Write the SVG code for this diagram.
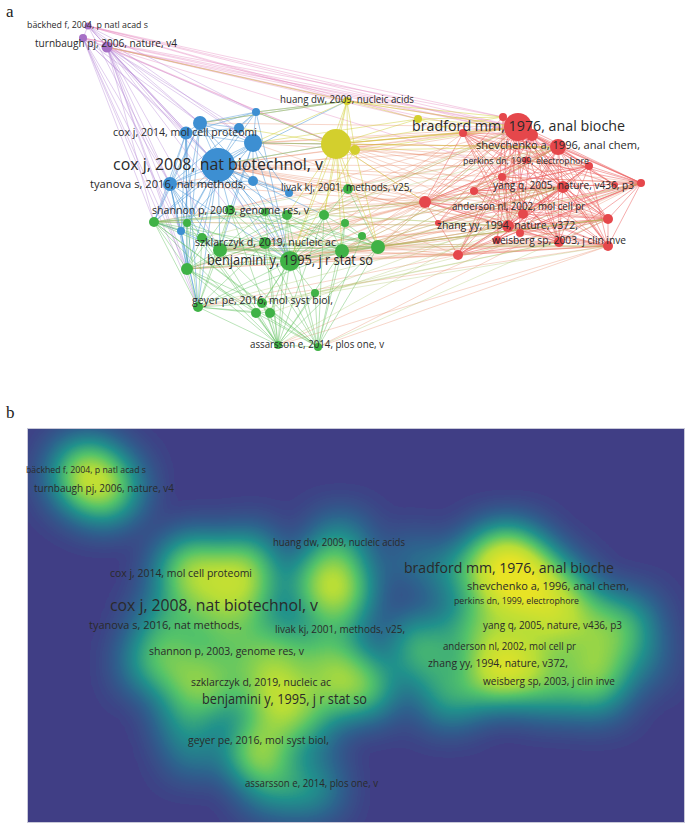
<svg xmlns="http://www.w3.org/2000/svg" width="685" height="826" viewBox="0 0 685 826">
<style>
.lbl{font-family:"Open Sans","Liberation Sans",sans-serif;fill:#2a2a2a}
.pl{font-family:"Liberation Serif",serif;fill:#222;font-size:17px}
path.e{fill:none;stroke-width:1;stroke-linecap:round}
.er{stroke:#ec5c5c;stroke-opacity:.5;stroke-width:1.2}
.erx{stroke:#e5805a;stroke-opacity:.32}
.eb{stroke:#4a95d6;stroke-opacity:.5}
.ebw{stroke:#4a95d6;stroke-opacity:.45;stroke-width:2.2}
.ep{stroke:#b585d4;stroke-opacity:.4}
.epr{stroke:#e58ac0;stroke-opacity:.4}
.ey{stroke:#cfcc2c;stroke-opacity:.45}
.eg{stroke:#5cbf5a;stroke-opacity:.42}
.egr{stroke:#a8c060;stroke-opacity:.32}
.nr{fill:#e5474b}
.nb{fill:#3d8fd2}
.ng{fill:#3fb246}
.ny{fill:#d3cf2d}
.np{fill:#a770c6}
.d{fill:#fff}
</style>
<defs>
<filter id="dens" filterUnits="userSpaceOnUse" x="27" y="428" width="658" height="395" color-interpolation-filters="sRGB">
<feGaussianBlur in="SourceGraphic" stdDeviation="20" result="b"/>
<feFlood flood-color="#000" result="k"/>
<feMerge><feMergeNode in="k"/><feMergeNode in="b"/></feMerge>
<feComponentTransfer>
<feFuncR type="gamma" amplitude="1.45" exponent="0.72" offset="0"/>
<feFuncG type="gamma" amplitude="1.45" exponent="0.72" offset="0"/>
<feFuncB type="gamma" amplitude="1.45" exponent="0.72" offset="0"/>
</feComponentTransfer>
<feComponentTransfer>
<feFuncR type="table" tableValues="0.251 0.176 0.129 0.333 0.725 0.91"/>
<feFuncG type="table" tableValues="0.247 0.392 0.569 0.765 0.871 0.894"/>
<feFuncB type="table" tableValues="0.522 0.557 0.549 0.412 0.216 0.149"/>
</feComponentTransfer>
</filter>
</defs>
<rect width="685" height="826" fill="#fff"/>
<text class="pl" x="6" y="17">a</text>
<text class="pl" x="6" y="418">b</text>

<g id="connectors">
<path class="e er" d="M518 127L558 147M518 127L503 117M518 127L532 135M518 127L463 133M518 127L589 166M518 127L502 177M518 127L563 187M518 127L641 183M518 127L474 191M518 127L425 202M518 127L523 214M518 127L608 219M518 127L508 226M518 127L438 223M518 127L520 233M518 127L559 242M518 127L608 246M518 127L458 255M518 127L497 240M518 127L615 185"/>
<path class="e er" d="M558 147L463 133M558 147L589 166M558 147L502 177M558 147L563 187M558 147L641 183M558 147L474 191M558 147L425 202M558 147L523 214M558 147L608 219M558 147L508 226M558 147L520 233M558 147L559 242M558 147L608 246M558 147L458 255M558 147L615 185M563 187L503 117M563 187L532 135M563 187L463 133M563 187L641 183M563 187L474 191M563 187L425 202M563 187L523 214M563 187L608 219M563 187L508 226M563 187L438 223M563 187L520 233M563 187L559 242M563 187L608 246M563 187L458 255M563 187L497 240"/>
<path class="e er" d="M641 183L503 117M641 183L532 135M641 183L463 133M641 183L589 166M641 183L523 214M641 183L608 219M641 183L508 226M641 183L520 233M641 183L559 242M641 183L608 246M641 183L497 240M608 219L503 117M608 219L532 135M608 219L463 133M608 219L502 177M608 219L474 191M608 219L425 202M608 219L523 214M608 219L508 226M608 219L520 233M608 219L559 242M608 219L608 246M608 219L458 255M608 246L503 117M608 246L532 135M608 246L463 133M608 246L589 166M608 246L502 177M608 246L474 191M608 246L425 202M608 246L523 214M608 246L508 226M608 246L520 233M608 246L559 242M608 246L458 255"/>
<path class="e er" d="M508 226L503 117M508 226L532 135M508 226L463 133M508 226L589 166M508 226L502 177M508 226L474 191M508 226L425 202M508 226L523 214M508 226L520 233M508 226L559 242M508 226L458 255M559 242L503 117M559 242L532 135M559 242L463 133M559 242L589 166M559 242L502 177M559 242L425 202M559 242L523 214M559 242L458 255M559 242L497 240M523 214L503 117M523 214L532 135M523 214L463 133M523 214L589 166M523 214L502 177M523 214L474 191M523 214L425 202M523 214L458 255M532 135L463 133M532 135L589 166M532 135L502 177M532 135L474 191M532 135L425 202M532 135L458 255M425 202L503 117M425 202L463 133M425 202L589 166M425 202L502 177M425 202L458 255M526 160L563 187M526 160L608 219M526 160L641 183M526 160L425 202"/>
<path class="e er" d="M474 191L641 183M474 191L589 166M474 191L559 242M502 177L641 183M502 177L589 166M502 177L458 255M438 223L641 183M438 223L589 166M438 223L532 135M497 240L589 166M497 240L503 117M520 233L589 166M520 233L463 133M463 133L615 185M503 117L615 185M458 255L641 183M458 255L615 185"/>
<path class="e erx" d="M518 127L218 165M518 127L253 143M518 127L336 144M518 127L290 261M518 127L378 247M518 127L342 251M518 127L324 215M518 127L170 184M518 127L220 250M518 127L348 189M518 127L347 101M518 127L230 210M518 127L200 123M558 147L218 165M558 147L336 144M558 147L290 261M558 147L378 247M558 147L154 222M558 147L187 269M558 147L253 143M558 147L342 251M563 187L218 165M563 187L336 144M563 187L290 261M563 187L342 251M563 187L378 247M563 187L230 210M563 187L170 184M563 187L265 243"/>
<path class="e erx" d="M608 219L218 165M608 219L290 261M608 219L378 247M608 219L342 251M608 219L220 250M608 219L336 144M608 219L187 269M608 246L290 261M608 246L342 251M608 246L378 247M608 246L187 269M608 246L198 307M608 246L218 165M608 246L278 345M608 246L318 347M641 183L218 165M641 183L336 144M641 183L290 261M641 183L378 247M641 183L318 347M641 183L278 345M508 226L218 165M508 226L290 261M508 226L378 247M508 226L336 144M508 226L220 250M508 226L154 222M559 242L290 261M559 242L342 251M559 242L220 250M559 242L218 165"/>
<path class="e erx" d="M425 202L218 165M425 202L253 143M425 202L336 144M425 202L290 261M425 202L378 247M425 202L342 251M425 202L220 250M425 202L230 210M425 202L154 222M425 202L170 184M425 202L187 269M425 202L265 243M425 202L324 215M425 202L345 223M458 255L290 261M458 255L342 251M458 255L378 247M458 255L220 250M458 255L187 269M458 255L218 165M458 255L198 307M523 214L218 165M523 214L290 261M523 214L336 144M589 166L336 144M589 166L218 165M589 166L253 143M463 133L218 165M463 133L336 144M463 133L253 143M463 133L290 261"/>
<path class="e ebw" d="M218 165L253 143M218 165L200 123M218 165L186 133M218 165L239 128M218 165L170 184M218 165L253 181M253 143L200 123M253 143L186 133M253 143L239 128M253 143L256 112M200 123L186 133M200 123L239 128M200 123L256 112M186 133L170 184M253 143L170 184"/>
<path class="e eb" d="M218 165L256 112M218 165L289 193M218 165L181 231M218 165L336 144M218 165L290 261M218 165L154 222M218 165L187 223M218 165L230 210M218 165L265 212M218 165L287 215M218 165L220 250M218 165L202 238M218 165L187 269M218 165L198 307M218 165L265 243M218 165L324 215M218 165L347 101"/>
<path class="e eb" d="M253 143L253 181M253 143L289 193M253 143L181 231M253 143L336 144M253 143L290 261M253 143L154 222M253 143L220 250M253 143L230 210M200 123L170 184M200 123L253 181M200 123L181 231M200 123L347 101M200 123L154 222M200 123L187 269M200 123L290 261"/>
<path class="e eb" d="M186 133L239 128M186 133L256 112M186 133L181 231M186 133L154 222M186 133L187 223M186 133L187 269M186 133L198 307M256 112L239 128M256 112L170 184M256 112L347 101M256 112L336 144M256 112L290 261M170 184L253 181M170 184L181 231M170 184L154 222M170 184L187 223M170 184L187 269M170 184L198 307M170 184L290 261M170 184L220 250M170 184L202 238M253 181L289 193M253 181L290 261M181 231L154 222M181 231L187 269M181 231L198 307M181 231L220 250"/>
<path class="e ep" d="M107 47L218 165M107 47L253 143M107 47L200 123M107 47L186 133M107 47L239 128M107 47L256 112M107 47L170 184M107 47L181 231M107 47L154 222M107 47L187 269M107 47L198 307M107 47L220 250M107 47L230 210M107 47L290 261M83 38L218 165M83 38L200 123M83 38L186 133M83 38L170 184M83 38L154 222M83 38L187 269M83 38L198 307M83 38L181 231M88 26L218 165M88 26L200 123M88 26L256 112M88 26L83 38M83 38L107 47M88 26L107 47M88 26L186 133M88 26L253 143M88 26L170 184"/>
<path class="e epr" d="M107 47L336 144M107 47L518 127M107 47L558 147M107 47L563 187M107 47L532 135M107 47L347 101M107 47L418 119M83 38L503 117M83 38L518 127M83 38L532 135M83 38L336 144M88 26L503 117M88 26L532 135M88 26L518 127M88 26L347 101M88 26L418 119"/>
<path class="e ey" d="M336 144L355 150M336 144L347 101M336 144L418 119M336 144L218 165M336 144L253 143M336 144L239 128M336 144L256 112M336 144L290 261M336 144L287 215M336 144L324 215M336 144L345 223M336 144L348 189M336 144L342 251M336 144L518 127M336 144L503 117M336 144L463 133M336 144L558 147M336 144L425 202M336 144L378 247M347 101L355 150M347 101L256 112M347 101L200 123M347 101L253 143M347 101L518 127M347 101L503 117M347 101L107 47M347 101L348 189M347 101L418 119M347 101L324 215M347 101L290 261M418 119L518 127M418 119L503 117M418 119L253 143M418 119L463 133M355 150L290 261M355 150L518 127M355 150L378 247M355 150L558 147"/>
<path class="e eg" d="M290 261L154 222M290 261L187 223M290 261L230 210M290 261L265 212M290 261L287 215M290 261L324 215M290 261L345 223M290 261L362 236M290 261L378 247M290 261L342 251M290 261L220 250M290 261L265 243M290 261L202 238M290 261L187 269M290 261L315 293M290 261L198 307M290 261L262 303M290 261L256 313M290 261L270 313M290 261L278 345M290 261L318 347M290 261L348 189"/>
<path class="e eg" d="M154 222L187 223M154 222L230 210M154 222L265 212M154 222L287 215M154 222L220 250M154 222L202 238M154 222L187 269M154 222L198 307M154 222L262 303M154 222L278 345M154 222L318 347M154 222L265 243M187 269L220 250M187 269L265 243M187 269L230 210M187 269L198 307M187 269L262 303M187 269L256 313M187 269L278 345M187 269L318 347M187 269L202 238M187 269L187 223"/>
<path class="e eg" d="M278 345L220 250M278 345L265 243M278 345L262 303M278 345L256 313M278 345L270 313M278 345L315 293M278 345L342 251M278 345L378 247M278 345L324 215M278 345L230 210M278 345L198 307M278 345L318 347M278 345L202 238M278 345L187 223M278 345L265 212M278 345L287 215M318 347L220 250M318 347L265 243M318 347L262 303M318 347L256 313M318 347L270 313M318 347L315 293M318 347L342 251M318 347L378 247M318 347L324 215M318 347L230 210M318 347L362 236M318 347L345 223M318 347L287 215"/>
<path class="e eg" d="M198 307L220 250M198 307L265 243M198 307L262 303M198 307L256 313M198 307L270 313M198 307L202 238M198 307L230 210M198 307L187 223M198 307L342 251M378 247L342 251M378 247L220 250M378 247L265 243M378 247L324 215M378 247L345 223M378 247L362 236M378 247L230 210M378 247L265 212M378 247L287 215M378 247L348 189M342 251L220 250M342 251L265 243M342 251L230 210M342 251L265 212M342 251L287 215M342 251L324 215M342 251L345 223M220 250L265 243M220 250L202 238M220 250L230 210M220 250L187 223M220 250L265 212M220 250L287 215M220 250L324 215"/>
<path class="e egr" d="M378 247L518 127M378 247L558 147M378 247L563 187M378 247L608 219M378 247L608 246M378 247L508 226M342 251L558 147M342 251L563 187M342 251L608 219M342 251L641 183M324 215L518 127M324 215L563 187M324 215L508 226M154 222L425 202M154 222L508 226M187 269L518 127M187 269L608 219M230 210L558 147M265 243L608 246M220 250L563 187M262 303L608 246M262 303L559 242M315 293L608 219M315 293L559 242M198 307L508 226M278 345L563 187M318 347L608 219M256 313L523 214M270 313L641 183M202 238L558 147M265 212L508 226M287 215L563 187"/>
</g>

<g id="nodes">
<g id="n-backhed"><circle class="np" cx="88" cy="26" r="3.5"/><text class="lbl" x="27" y="28" font-size="9" textLength="121" lengthAdjust="spacingAndGlyphs">bäckhed f, 2004, p natl acad s</text></g>
<g id="n-p2"><circle class="np" cx="83" cy="38" r="4"/></g>
<g id="n-turnbaugh"><circle class="np" cx="107" cy="47" r="5.5"/><text class="lbl" x="35" y="47" font-size="11" textLength="142" lengthAdjust="spacingAndGlyphs">turnbaugh pj, 2006, nature, v4</text></g>
<g id="n-b3"><circle class="nb" cx="200" cy="123" r="7"/></g>
<g id="n-b5"><circle class="nb" cx="239" cy="128" r="5"/></g>
<g id="n-b6"><circle class="nb" cx="256" cy="112" r="4"/></g>
<g id="n-b2"><circle class="nb" cx="253" cy="143" r="9"/></g>
<g id="n-b8"><circle class="nb" cx="253" cy="181" r="5"/></g>
<g id="n-b9"><circle class="nb" cx="289" cy="193" r="4"/></g>
<g id="n-b10"><circle class="nb" cx="181" cy="231" r="4"/></g>
<g id="n-cox2014"><circle class="nb" cx="186" cy="133" r="6.5"/><text class="lbl" x="113" y="136" font-size="11" textLength="144" lengthAdjust="spacingAndGlyphs">cox j, 2014, mol cell proteomi</text></g>
<g id="n-cox2008"><circle class="nb" cx="218" cy="165" r="17"/><text class="lbl" x="113" y="170" font-size="16.5" textLength="210" lengthAdjust="spacingAndGlyphs">cox j, 2008, nat biotechnol, v</text></g>
<g id="n-tyanova"><circle class="nb" cx="170" cy="184" r="7"/><text class="lbl" x="90" y="188" font-size="11.5" textLength="156" lengthAdjust="spacingAndGlyphs">tyanova s, 2016, nat methods,</text></g>
<g id="n-y1"><circle class="ny" cx="336" cy="144" r="15"/></g>
<g id="n-y2"><circle class="ny" cx="355" cy="150" r="5"/></g>
<g id="n-y4"><circle class="ny" cx="418" cy="119" r="4"/></g>
<g id="n-huang"><circle class="ny" cx="347" cy="101" r="4"/><text class="lbl" x="280" y="103" font-size="10.5" textLength="134" lengthAdjust="spacingAndGlyphs">huang dw, 2009, nucleic acids</text></g>
<g id="n-r3"><circle class="nr" cx="503" cy="117" r="4"/></g>
<g id="n-r4"><circle class="nr" cx="532" cy="135" r="6"/></g>
<g id="n-r5"><circle class="nr" cx="463" cy="133" r="4"/></g>
<g id="n-r6"><circle class="nr" cx="589" cy="166" r="4"/></g>
<g id="n-r7"><circle class="nr" cx="502" cy="177" r="4"/></g>
<g id="n-r9"><circle class="nr" cx="641" cy="183" r="4"/></g>
<g id="n-r10"><circle class="nr" cx="474" cy="191" r="4"/></g>
<g id="n-r11"><circle class="nr" cx="425" cy="202" r="6"/></g>
<g id="n-r13"><circle class="nr" cx="608" cy="219" r="5"/></g>
<g id="n-r15"><circle class="nr" cx="438" cy="223" r="3"/></g>
<g id="n-r16"><circle class="nr" cx="520" cy="233" r="4"/></g>
<g id="n-r18"><circle class="nr" cx="608" cy="246" r="5"/></g>
<g id="n-r19"><circle class="nr" cx="458" cy="255" r="5"/></g>
<g id="n-r20"><circle class="nr" cx="497" cy="240" r="4"/></g>
<g id="n-r21"><circle class="nr" cx="615" cy="185" r="3"/></g>
<g id="n-bradford"><circle class="nr" cx="518" cy="127" r="14"/><text class="lbl" x="412" y="131" font-size="15" textLength="213" lengthAdjust="spacingAndGlyphs">bradford mm, 1976, anal bioche</text></g>
<g id="n-shevchenko"><circle class="nr" cx="558" cy="147" r="8"/><text class="lbl" x="476" y="149" font-size="11.5" textLength="164" lengthAdjust="spacingAndGlyphs">shevchenko a, 1996, anal chem,</text></g>
<g id="n-perkins"><circle class="nr" cx="526" cy="160" r="3.5"/><text class="lbl" x="463" y="164" font-size="8.5" textLength="126" lengthAdjust="spacingAndGlyphs">perkins dn, 1999, electrophore</text></g>
<g id="n-yang"><circle class="nr" cx="563" cy="187" r="6"/><text class="lbl" x="493" y="189" font-size="10.5" textLength="141" lengthAdjust="spacingAndGlyphs">yang q, 2005, nature, v436, p3</text></g>
<g id="n-anderson"><circle class="nr" cx="523" cy="214" r="5"/><text class="lbl" x="452" y="210" font-size="10.5" textLength="133" lengthAdjust="spacingAndGlyphs">anderson nl, 2002, mol cell pr</text></g>
<g id="n-zhang"><circle class="nr" cx="508" cy="226" r="6"/><text class="lbl" x="437" y="229" font-size="11" textLength="141" lengthAdjust="spacingAndGlyphs">zhang yy, 1994, nature, v372,</text></g>
<g id="n-weisberg"><circle class="nr" cx="559" cy="242" r="5"/><text class="lbl" x="492" y="244" font-size="10.5" textLength="134" lengthAdjust="spacingAndGlyphs">weisberg sp, 2003, j clin inve</text></g>
<g id="n-g2"><circle class="ng" cx="154" cy="222" r="5"/></g>
<g id="n-g3"><circle class="ng" cx="187" cy="223" r="4"/></g>
<g id="n-g5"><circle class="ng" cx="265" cy="212" r="4"/></g>
<g id="n-g6"><circle class="ng" cx="287" cy="215" r="5"/></g>
<g id="n-g7"><circle class="ng" cx="324" cy="215" r="5"/></g>
<g id="n-g8"><circle class="ng" cx="345" cy="223" r="4"/></g>
<g id="n-g9"><circle class="ng" cx="362" cy="236" r="4"/></g>
<g id="n-g10"><circle class="ng" cx="378" cy="247" r="7"/></g>
<g id="n-g11"><circle class="ng" cx="342" cy="251" r="7"/></g>
<g id="n-g12"><circle class="ng" cx="220" cy="250" r="7"/></g>
<g id="n-g14"><circle class="ng" cx="202" cy="238" r="5"/></g>
<g id="n-g15"><circle class="ng" cx="187" cy="269" r="6"/></g>
<g id="n-g16"><circle class="ng" cx="315" cy="293" r="4"/></g>
<g id="n-g17"><circle class="ng" cx="198" cy="307" r="5"/></g>
<g id="n-g19"><circle class="ng" cx="256" cy="313" r="5"/></g>
<g id="n-g20"><circle class="ng" cx="270" cy="313" r="5"/></g>
<g id="n-g21"><circle class="ng" cx="278" cy="345" r="4"/></g>
<g id="n-livak"><circle class="ng" cx="348" cy="189" r="5"/><text class="lbl" x="281" y="191" font-size="10.5" textLength="131" lengthAdjust="spacingAndGlyphs">livak kj, 2001, methods, v25,</text></g>
<g id="n-shannon"><circle class="ng" cx="230" cy="210" r="5"/><text class="lbl" x="152" y="214" font-size="11" textLength="157" lengthAdjust="spacingAndGlyphs">shannon p, 2003, genome res, v</text></g>
<g id="n-szklarczyk"><circle class="ng" cx="265" cy="243" r="6"/><text class="lbl" x="195" y="246" font-size="11" textLength="141" lengthAdjust="spacingAndGlyphs">szklarczyk d, 2019, nucleic ac</text></g>
<g id="n-benjamini"><circle class="ng" cx="290" cy="261" r="10"/><text class="lbl" x="207" y="265" font-size="14.5" textLength="166" lengthAdjust="spacingAndGlyphs">benjamini y, 1995, j r stat so</text></g>
<g id="n-geyer"><circle class="ng" cx="262" cy="303" r="5"/><text class="lbl" x="192" y="304" font-size="11" textLength="141" lengthAdjust="spacingAndGlyphs">geyer pe, 2016, mol syst biol,</text></g>
<g id="n-assarsson"><circle class="ng" cx="318" cy="347" r="4"/><text class="lbl" x="250" y="348" font-size="10.5" textLength="134" lengthAdjust="spacingAndGlyphs">assarsson e, 2014, plos one, v</text></g>
</g>

<g id="density">
<g filter="url(#dens)">
<circle class="d" cx="86" cy="467" r="22" fill-opacity=".42"/>
<circle class="d" cx="81" cy="479" r="22" fill-opacity=".42"/>
<circle class="d" cx="105" cy="488" r="27" fill-opacity=".52"/>
<circle class="d" cx="214" cy="606" r="30" fill-opacity=".36"/>
<circle class="d" cx="248" cy="584" r="24" fill-opacity=".48"/>
<circle class="d" cx="196" cy="564" r="22" fill-opacity=".48"/>
<circle class="d" cx="182" cy="574" r="20" fill-opacity=".42"/>
<circle class="d" cx="234" cy="569" r="18" fill-opacity=".4"/>
<circle class="d" cx="251" cy="553" r="16" fill-opacity=".4"/>
<circle class="d" cx="167" cy="625" r="22" fill-opacity=".36"/>
<circle class="d" cx="248" cy="622" r="16" fill-opacity=".3"/>
<circle class="d" cx="283" cy="634" r="14" fill-opacity=".28"/>
<circle class="d" cx="177" cy="672" r="14" fill-opacity=".3"/>
<circle class="d" cx="329" cy="585" r="30" fill-opacity=".55"/>
<circle class="d" cx="348" cy="591" r="18" fill-opacity=".35"/>
<circle class="d" cx="340" cy="542" r="18" fill-opacity=".36"/>
<circle class="d" cx="410" cy="560" r="14" fill-opacity=".28"/>
<circle class="d" cx="508" cy="568" r="34" fill-opacity=".62"/>
<circle class="d" cx="547" cy="588" r="26" fill-opacity=".52"/>
<circle class="d" cx="493" cy="558" r="18" fill-opacity=".42"/>
<circle class="d" cx="521" cy="576" r="20" fill-opacity=".48"/>
<circle class="d" cx="454" cy="574" r="18" fill-opacity=".36"/>
<circle class="d" cx="577" cy="607" r="20" fill-opacity=".42"/>
<circle class="d" cx="516" cy="601" r="18" fill-opacity=".38"/>
<circle class="d" cx="492" cy="618" r="20" fill-opacity=".42"/>
<circle class="d" cx="552" cy="628" r="24" fill-opacity=".52"/>
<circle class="d" cx="628" cy="624" r="20" fill-opacity=".4"/>
<circle class="d" cx="465" cy="632" r="18" fill-opacity=".42"/>
<circle class="d" cx="417" cy="643" r="20" fill-opacity=".42"/>
<circle class="d" cx="513" cy="655" r="22" fill-opacity=".48"/>
<circle class="d" cx="596" cy="660" r="22" fill-opacity=".48"/>
<circle class="d" cx="498" cy="667" r="24" fill-opacity=".52"/>
<circle class="d" cx="429" cy="664" r="16" fill-opacity=".36"/>
<circle class="d" cx="510" cy="674" r="20" fill-opacity=".42"/>
<circle class="d" cx="548" cy="683" r="22" fill-opacity=".48"/>
<circle class="d" cx="596" cy="687" r="22" fill-opacity=".42"/>
<circle class="d" cx="449" cy="696" r="20" fill-opacity=".42"/>
<circle class="d" cx="487" cy="681" r="18" fill-opacity=".42"/>
<circle class="d" cx="603" cy="626" r="18" fill-opacity=".38"/>
<circle class="d" cx="640" cy="660" r="16" fill-opacity=".28"/>
<circle class="d" cx="284" cy="702" r="28" fill-opacity=".56"/>
<circle class="d" cx="151" cy="663" r="20" fill-opacity=".42"/>
<circle class="d" cx="183" cy="664" r="16" fill-opacity=".38"/>
<circle class="d" cx="225" cy="651" r="18" fill-opacity=".4"/>
<circle class="d" cx="260" cy="653" r="16" fill-opacity=".38"/>
<circle class="d" cx="281" cy="656" r="18" fill-opacity=".4"/>
<circle class="d" cx="318" cy="656" r="18" fill-opacity=".4"/>
<circle class="d" cx="338" cy="664" r="16" fill-opacity=".38"/>
<circle class="d" cx="355" cy="677" r="16" fill-opacity=".34"/>
<circle class="d" cx="370" cy="688" r="20" fill-opacity=".46"/>
<circle class="d" cx="335" cy="692" r="20" fill-opacity=".46"/>
<circle class="d" cx="216" cy="691" r="20" fill-opacity=".46"/>
<circle class="d" cx="260" cy="684" r="18" fill-opacity=".4"/>
<circle class="d" cx="198" cy="679" r="16" fill-opacity=".38"/>
<circle class="d" cx="183" cy="710" r="18" fill-opacity=".4"/>
<circle class="d" cx="309" cy="734" r="16" fill-opacity=".34"/>
<circle class="d" cx="194" cy="748" r="16" fill-opacity=".38"/>
<circle class="d" cx="257" cy="744" r="18" fill-opacity=".43"/>
<circle class="d" cx="251" cy="754" r="18" fill-opacity=".43"/>
<circle class="d" cx="265" cy="754" r="18" fill-opacity=".43"/>
<circle class="d" cx="272" cy="786" r="18" fill-opacity=".4"/>
<circle class="d" cx="312" cy="788" r="18" fill-opacity=".4"/>
<circle class="d" cx="341" cy="630" r="16" fill-opacity=".34"/>
</g>
<rect x="27.5" y="428.5" width="657" height="394" fill="none" stroke="#c8c8d8" stroke-width="1"/>
</g>

<g id="density-labels">
<text class="lbl" x="26" y="473" font-size="9" textLength="120" lengthAdjust="spacingAndGlyphs">bäckhed f, 2004, p natl acad s</text>
<text class="lbl" x="34" y="492" font-size="11" textLength="140" lengthAdjust="spacingAndGlyphs">turnbaugh pj, 2006, nature, v4</text>
<text class="lbl" x="273" y="546" font-size="10.5" textLength="132" lengthAdjust="spacingAndGlyphs">huang dw, 2009, nucleic acids</text>
<text class="lbl" x="110" y="577" font-size="11" textLength="142" lengthAdjust="spacingAndGlyphs">cox j, 2014, mol cell proteomi</text>
<text class="lbl" x="404" y="573" font-size="15" textLength="210" lengthAdjust="spacingAndGlyphs">bradford mm, 1976, anal bioche</text>
<text class="lbl" x="467" y="590" font-size="11.5" textLength="162" lengthAdjust="spacingAndGlyphs">shevchenko a, 1996, anal chem,</text>
<text class="lbl" x="110" y="611" font-size="16.5" textLength="208" lengthAdjust="spacingAndGlyphs">cox j, 2008, nat biotechnol, v</text>
<text class="lbl" x="454" y="604" font-size="8.5" textLength="125" lengthAdjust="spacingAndGlyphs">perkins dn, 1999, electrophore</text>
<text class="lbl" x="483" y="629" font-size="10.5" textLength="139" lengthAdjust="spacingAndGlyphs">yang q, 2005, nature, v436, p3</text>
<text class="lbl" x="89" y="629" font-size="11.5" textLength="153" lengthAdjust="spacingAndGlyphs">tyanova s, 2016, nat methods,</text>
<text class="lbl" x="275" y="633" font-size="10.5" textLength="130" lengthAdjust="spacingAndGlyphs">livak kj, 2001, methods, v25,</text>
<text class="lbl" x="443" y="650" font-size="10.5" textLength="133" lengthAdjust="spacingAndGlyphs">anderson nl, 2002, mol cell pr</text>
<text class="lbl" x="149" y="655" font-size="11" textLength="155" lengthAdjust="spacingAndGlyphs">shannon p, 2003, genome res, v</text>
<text class="lbl" x="428" y="667" font-size="11" textLength="140" lengthAdjust="spacingAndGlyphs">zhang yy, 1994, nature, v372,</text>
<text class="lbl" x="483" y="685" font-size="10.5" textLength="132" lengthAdjust="spacingAndGlyphs">weisberg sp, 2003, j clin inve</text>
<text class="lbl" x="191" y="686" font-size="11" textLength="140" lengthAdjust="spacingAndGlyphs">szklarczyk d, 2019, nucleic ac</text>
<text class="lbl" x="202" y="704" font-size="14.5" textLength="165" lengthAdjust="spacingAndGlyphs">benjamini y, 1995, j r stat so</text>
<text class="lbl" x="188" y="744" font-size="11" textLength="141" lengthAdjust="spacingAndGlyphs">geyer pe, 2016, mol syst biol,</text>
<text class="lbl" x="245" y="787" font-size="10.5" textLength="133" lengthAdjust="spacingAndGlyphs">assarsson e, 2014, plos one, v</text>
</g>
</svg>
